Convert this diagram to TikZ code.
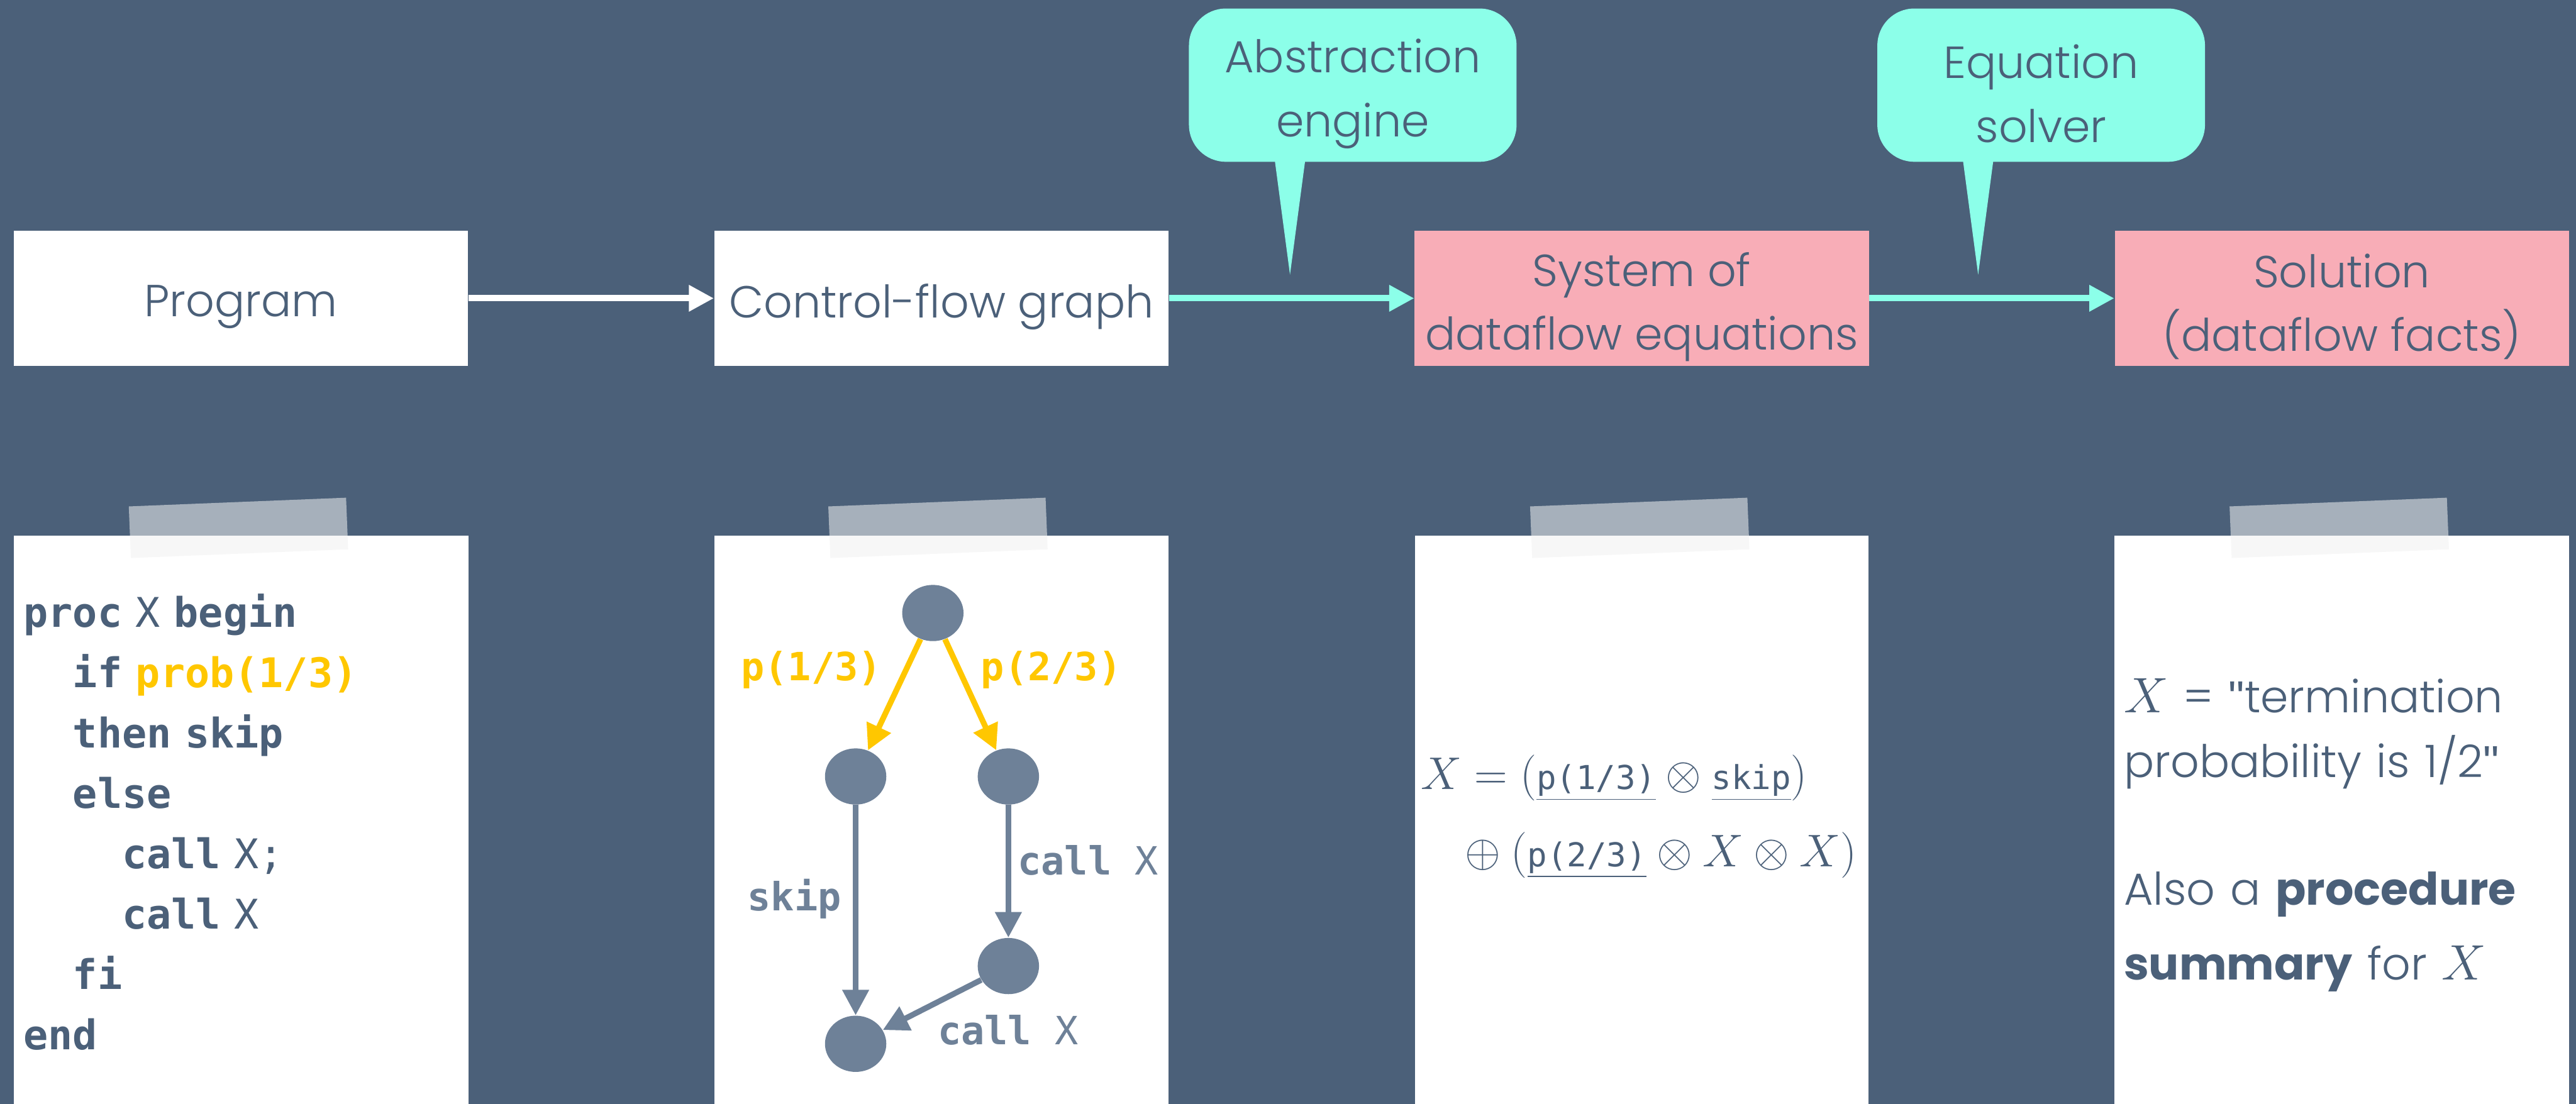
\documentclass[tikz,border=0pt]{standalone}
\usepackage{fix-cm}
\usepackage{fontspec}
\setmainfont{Poppins}[UprightFont=* Light,BoldFont=* Bold]
\setmonofont{DejaVu Sans Mono}
\newfontfamily\qfont{Liberation Sans}
\usetikzlibrary{arrows.meta,shapes.geometric}
\definecolor{slate}{HTML}{4B6079}
\definecolor{mint}{HTML}{8CFFE9}
\definecolor{rosy}{HTML}{F8ADB7}
\definecolor{gold}{HTML}{FFC700}
\definecolor{dotgray}{HTML}{6E8198}
\newcommand{\ind}{\hphantom{xx}}
\newcommand{\eqtt}[1]{\mbox{\fontsize{16.5}{20}\selectfont\ttfamily #1}}
\newcommand{\qq}{{\qfont"}}

\begin{document}
\begin{tikzpicture}[
    every node/.style={text=slate,font=\fontsize{22.5}{32}\selectfont},
    stage/.style={minimum width=8cm,minimum height=2.39cm,inner sep=0pt,label={[align=center,yshift=-0.15cm]center:#1}},
    bubble/.style={fill=mint,rounded corners=0.65cm,minimum width=5.77cm,minimum height=2.7cm,label={[align=center,yshift=-0.15cm]center:#1}},
    tape/.style={fill=black!5,fill opacity=0.55,minimum width=3.83cm,minimum height=0.91cm,rotate=2.3},
    dot/.style={ellipse,fill=dotgray,minimum width=1.08cm,minimum height=0.99cm,inner sep=0pt},
    flow/.style={line width=0.11cm,-{Triangle[length=0.44cm,width=0.44cm]}},
    cfgarrow/.style={line width=0.1cm,-{Triangle[length=0.45cm,width=0.45cm]}},
    code/.style={font=\fontsize{20.5}{30.25}\selectfont\ttfamily,anchor=base west,text width=7.6cm,align=left,inner sep=0pt},
    lbl/.style={font=\fontsize{19.5}{24}\selectfont\ttfamily,inner sep=0pt}
  ]
\useasboundingbox (0,0) rectangle (45.37,-19.45);
\fill[slate] (0,0) rectangle (45.37,-19.45);

\node[stage={Program},fill=white] (prog) at (4.245,-5.255) {};
\node[stage={Control-flow graph},fill=white] (cfg) at (16.58,-5.255) {};
\node[stage={System of\\dataflow equations},fill=rosy] (eqs) at (28.915,-5.255) {};
\node[stage={Solution\\(dataflow facts)},fill=rosy] (sol) at (41.245,-5.255) {};

\draw[flow,white] (prog) -- (cfg);
\draw[flow,mint] (cfg) -- (eqs);
\draw[flow,mint] (eqs) -- (sol);

\node[bubble={Abstraction\\engine}] (abseng) at (23.825,-1.5) {};
\coordinate (abstip) at (22.72,-4.84);
\fill[mint] ([xshift=-1.375cm,yshift=0.05cm]abseng.south) -- (abstip) -- ([xshift=-0.835cm,yshift=0.05cm]abseng.south) -- cycle;
\node[bubble={Equation\\solver}] (eqsolve) at (35.95,-1.5) {};
\coordinate (soltip) at (34.84,-4.84);
\fill[mint] ([xshift=-1.38cm,yshift=0.05cm]eqsolve.south) -- (soltip) -- ([xshift=-0.84cm,yshift=0.05cm]eqsolve.south) -- cycle;

% cards
\fill[white] (0.24,-9.44) rectangle (8.25,-19.45);
\fill[white] (12.58,-9.44) rectangle (20.58,-19.45);
\fill[white] (24.92,-9.44) rectangle (32.91,-19.45);
\fill[white] (37.24,-9.44) rectangle (45.25,-19.45);
\node[tape] (tape1) at (4.20,-9.30) {};
\node[tape] (tape2) at (16.52,-9.30) {};
\node[tape] (tape3) at (28.88,-9.30) {};
\node[tape] (tape4) at (41.20,-9.30) {};

% program
\node[code] (src) at (0.41,-11.05) {\textbf{proc} X \textbf{begin}\\
\ind\textbf{if} \textcolor{gold}{\textbf{prob(1/3)}}\\
\ind\textbf{then skip}\\
\ind\textbf{else}\\
\ind\ind\textbf{call} X;\\
\ind\ind\textbf{call} X\\
\ind\textbf{fi}\\
\textbf{end}};

% control-flow graph
\node[dot] (ntop) at (16.43,-10.80) {};
\node[dot] (nl) at (15.07,-13.68) {};
\node[dot] (nr) at (17.76,-13.68) {};
\node[dot] (nr2) at (17.76,-17.02) {};
\node[dot] (nbot) at (15.07,-18.39) {};
\draw[cfgarrow,gold] (ntop) -- (nl);
\draw[cfgarrow,gold] (ntop) -- (nr);
\draw[cfgarrow,dotgray] (nl) -- (nbot);
\draw[cfgarrow,dotgray] (nr) -- (nr2);
\draw[cfgarrow,dotgray] (nr2) -- (nbot);
\node[lbl,text=gold,anchor=base] (pl) at (14.29,-11.99) {\textbf{p(1/3)}};
\node[lbl,text=gold,anchor=base] (pr) at (18.515,-11.99) {\textbf{p(2/3)}};
\node[lbl,text=dotgray,anchor=base] (lskip) at (13.99,-16.04) {\textbf{skip}};
\node[lbl,text=dotgray,anchor=base west] (lcall1) at (17.92,-15.41) {\textbf{call} X};
\node[lbl,text=dotgray,anchor=base west] (lcall2) at (16.51,-18.40) {\textbf{call} X};

% equations
\node[anchor=base west,inner sep=0pt,font=\fontsize{23}{32}\selectfont] (eq1) at (25.02,-13.91) {$X = (\underline{\eqtt{p(1/3)}} \otimes \underline{\eqtt{skip}})$};
\node[anchor=base west,inner sep=0pt,font=\fontsize{23}{32}\selectfont] (eq2) at (25.80,-15.27) {$\oplus\mskip\medmuskip(\underline{\eqtt{p(2/3)}} \otimes X \otimes X)$};

% solution
\node[anchor=base west,text width=7.6cm,align=left,inner sep=0pt,font=\fontsize{22.5}{32.7}\selectfont] (solA) at (37.40,-12.55) {{\fontsize{25}{32}\selectfont$X$} = \qq termination\\probability is 1/2\qq};
\node[anchor=base west,text width=7.6cm,align=left,inner sep=0pt,font=\fontsize{22.5}{37.5}\selectfont] (solB) at (37.40,-15.94) {Also a \textbf{procedure}\\\textbf{summary} for {\fontsize{25}{32}\selectfont$X$}};
\end{tikzpicture}
\end{document}
